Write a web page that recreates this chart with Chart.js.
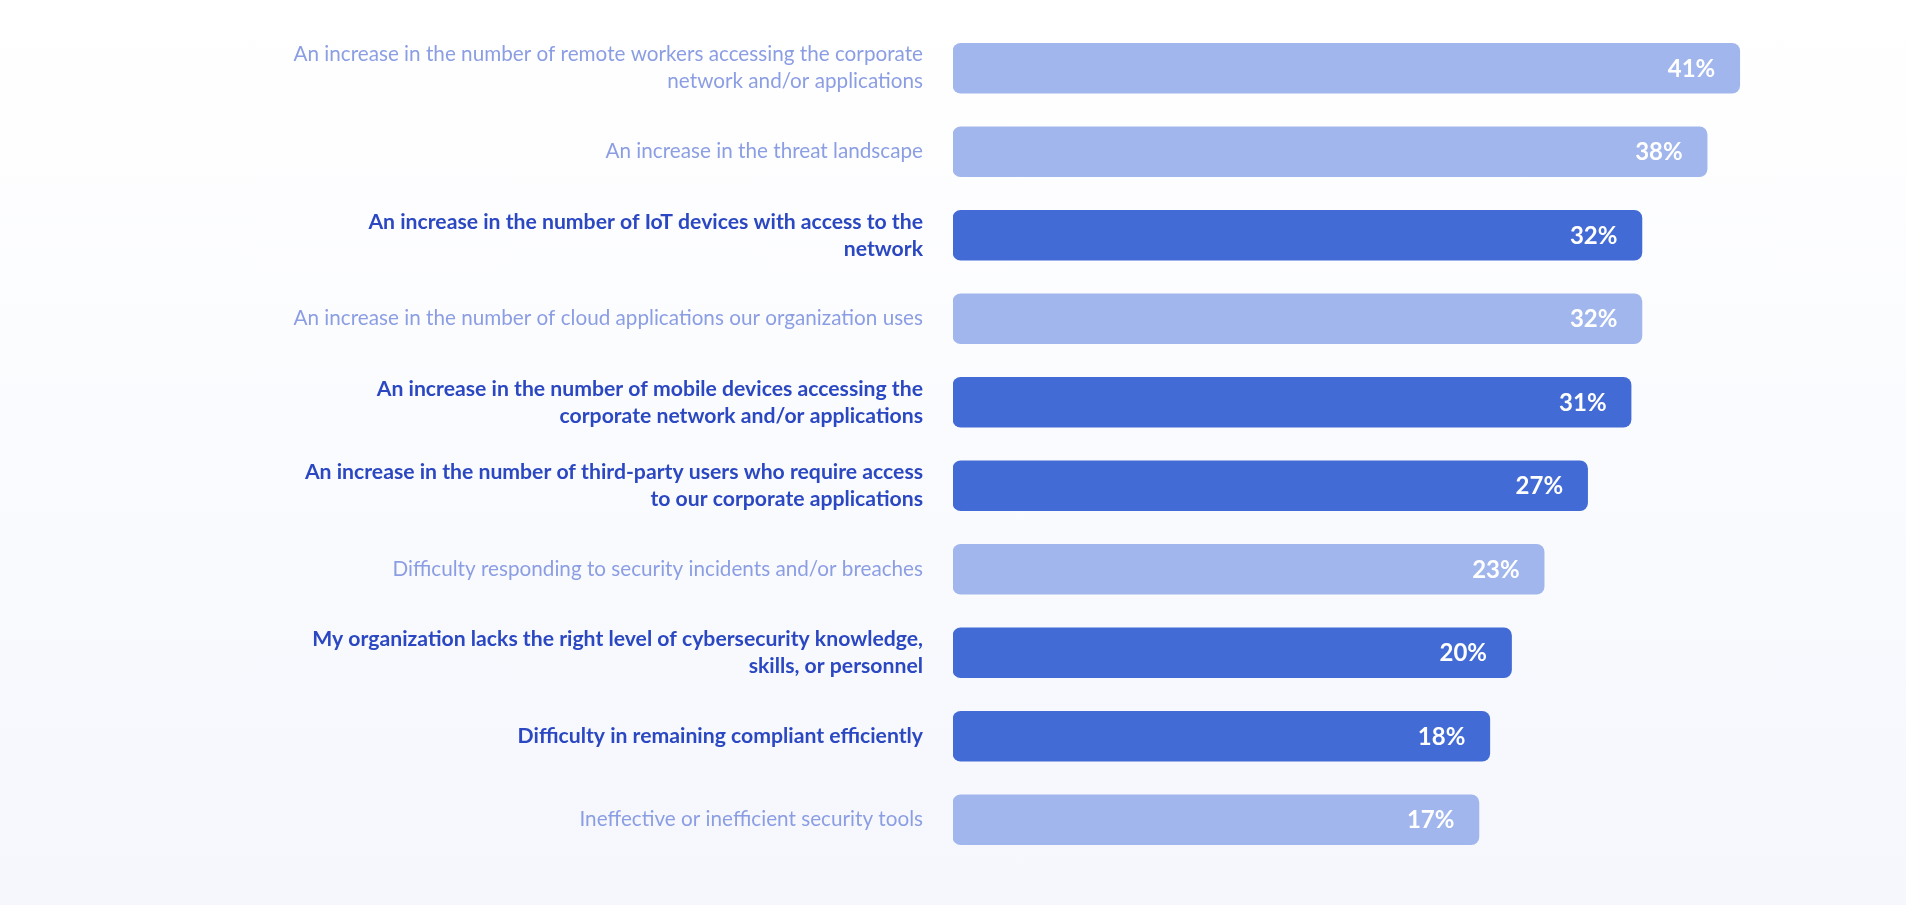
<!DOCTYPE html>
<html><head><meta charset="utf-8">
<script src="https://cdn.jsdelivr.net/npm/chart.js@4.4.1/dist/chart.umd.min.js"></script>
<style>
html,body{margin:0;padding:0;width:1906px;height:905px;overflow:hidden;background:linear-gradient(180deg,#ffffff 0%,#f5f7fd 100%);}
#wrap{position:relative;width:1906px;height:905px;}
canvas{display:block;}
</style></head><body>
<div id="wrap"><canvas id="c" width="1906" height="905"></canvas></div>
<script>
const categories = [
  ["An increase in the number of remote workers accessing the corporate", "network and/or applications"],
  "An increase in the threat landscape",
  ["An increase in the number of IoT devices with access to the", "network"],
  "An increase in the number of cloud applications our organization uses",
  ["An increase in the number of mobile devices accessing the", "corporate network and/or applications"],
  ["An increase in the number of third-party users who require access", "to our corporate applications"],
  "Difficulty responding to security incidents and/or breaches",
  ["My organization lacks the right level of cybersecurity knowledge,", "skills, or personnel"],
  "Difficulty in remaining compliant efficiently",
  "Ineffective or inefficient security tools"
];
const values = [41, 38, 32, 32, 31, 27, 23, 20, 18, 17];
const highlighted = [false, false, true, false, true, true, false, true, true, false];

const LIGHT_BAR = '#a1b6ec';
const DARK_BAR = '#436bd6';
const LIGHT_TEXT = '#8c9ee3';
const DARK_TEXT = '#2b48c2';
const AXIS_START = -31.4;

const valueLabels = {
  id: 'valueLabels',
  afterDatasetsDraw(chart) {
    const ctx = chart.ctx;
    const meta = chart.getDatasetMeta(0);
    ctx.save();
    ctx.fillStyle = '#ffffff';
    ctx.font = 'bold 24px Lato';
    ctx.textAlign = 'right';
    ctx.textBaseline = 'middle';
    meta.data.forEach((bar, i) => {
      ctx.fillText(values[i] + '%', bar.x - 24.5, bar.y + 1);
    });
    ctx.restore();
  }
};

new Chart(document.getElementById('c'), {
  type: 'bar',
  data: {
    labels: categories,
    datasets: [{
      data: values,
      base: AXIS_START,
      backgroundColor: highlighted.map(h => h ? DARK_BAR : LIGHT_BAR),
      borderRadius: 8,
      borderSkipped: false,
      barThickness: 50
    }]
  },
  options: {
    indexAxis: 'y',
    responsive: false,
    devicePixelRatio: 1,
    animation: false,
    layout: { padding: { top: 26.5, bottom: 43.5, left: 0, right: 0 } },
    plugins: { legend: { display: false }, tooltip: { enabled: false } },
    scales: {
      x: { display: false, min: AXIS_START, max: 56.3 },
      y: {
        grid: { display: false, drawTicks: false },
        border: { display: false },
        afterFit(s) { s.width = 953; s.paddingTop = 0; s.paddingBottom = 0; },
        ticks: {
          autoSkip: false,
          padding: 30,
          color: (c) => highlighted[c.index] ? DARK_TEXT : LIGHT_TEXT,
          font: (c) => highlighted[c.index]
            ? { family: 'Lato', size: 21.2, weight: 'bold', lineHeight: 1.27 }
            : { family: 'Lato', size: 20.7, weight: 'normal', lineHeight: 1.3 }
        }
      }
    }
  },
  plugins: [valueLabels]
});
</script>
</body></html>
